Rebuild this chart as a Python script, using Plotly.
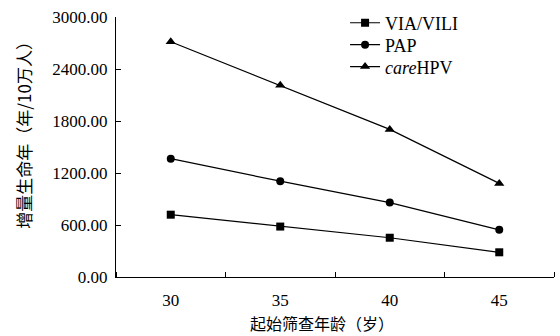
import plotly.graph_objects as go

ages = [30, 35, 40, 45]
age_labels = ["30", "35", "40", "45"]
via_vili = [719, 582, 453, 285]
pap = [1365, 1106, 859, 544]
carehpv = [2715, 2213, 1703, 1080]
y_ticks = [0, 600, 1200, 1800, 2400, 3000]
y_tick_labels = ["0.00", "600.00", "1200.00", "1800.00", "2400.00", "3000.00"]

serif = "Liberation Serif, Times New Roman, Noto Sans CJK SC, serif"
cjk = "Noto Sans CJK SC, Liberation Serif, serif"

fig = go.Figure()
series = [
    ("VIA/VILI", via_vili, "square", 8, "legend", 0.973),
    ("PAP", pap, "circle", 8, "legend2", 0.889),
    ("<i>care</i>HPV", carehpv, "triangle-up", 9, "legend3", 0.805),
]
legends = {}
for name, vals, sym, sz, leg, ly in series:
    fig.add_trace(go.Scatter(
        x=ages, y=vals, mode="lines+markers", name=name, legend=leg,
        line=dict(color="black", width=1.2),
        marker=dict(symbol=sym, size=sz, color="black"),
    ))
    legends[leg] = dict(x=0.523, y=ly, xanchor="left", yanchor="middle",
                        font=dict(family=serif, size=18, color="black"),
                        bgcolor="rgba(0,0,0,0)", itemwidth=30)

fig.update_layout(
    width=560, height=336,
    margin=dict(l=116, r=6, t=16, b=59),
    paper_bgcolor="white", plot_bgcolor="white",
    showlegend=True,
    font=dict(family=serif, color="black"),
    annotations=[
        dict(text="增量生命年（年/10万人）", textangle=-90,
             xref="paper", yref="paper", x=-0.21, y=0.563,
             xanchor="center", yanchor="middle", showarrow=False,
             font=dict(family=cjk, size=17, color="black")),
        dict(text="起始筛查年龄（岁）",
             xref="paper", yref="paper", x=0.47, y=-0.175,
             xanchor="center", yanchor="middle", showarrow=False,
             font=dict(family=cjk, size=16, color="black")),
    ],
    **legends,
)
fig.update_xaxes(
    range=[27.5, 47.5], tickvals=ages, ticktext=age_labels,
    ticks="", showgrid=False, zeroline=False,
    showline=True, linecolor="black", linewidth=1.2,
    tickfont=dict(family=serif, size=17, color="black"),
    ticklabelstandoff=7,
    minor=dict(tick0=27.5, dtick=5, ticks="inside", ticklen=5,
               tickcolor="black", tickwidth=1, showgrid=False),
)
fig.update_yaxes(
    range=[0, 3000], tickvals=y_ticks, ticktext=y_tick_labels,
    ticks="inside", ticklen=5, tickcolor="black", tickwidth=1,
    showgrid=False, zeroline=False,
    showline=True, linecolor="black", linewidth=1.2,
    tickfont=dict(family=serif, size=17, color="black"),
    ticklabelstandoff=4,
)
fig.write_html("out.html")
